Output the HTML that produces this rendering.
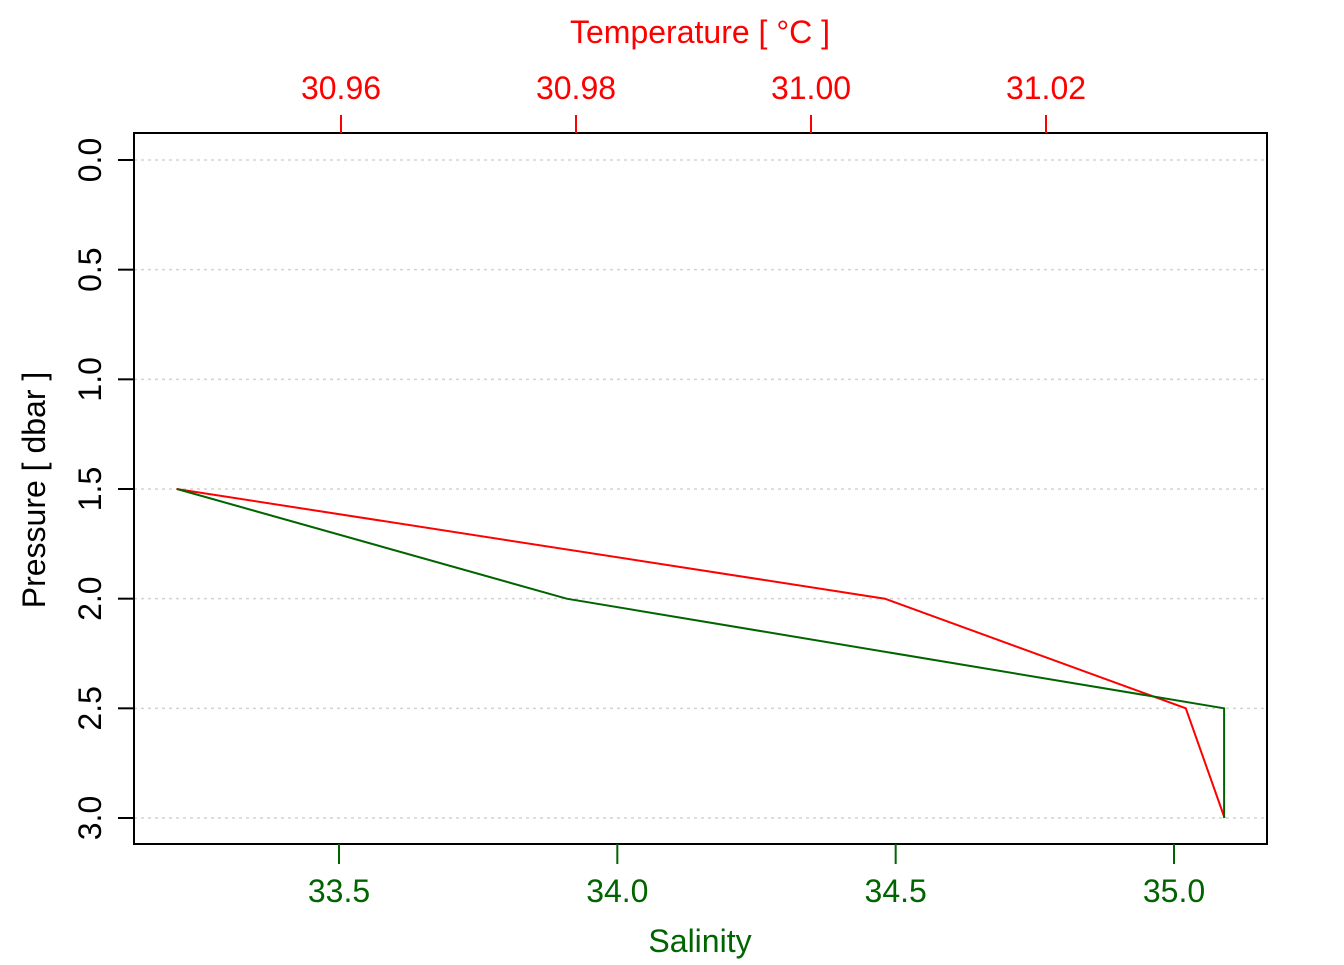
<!DOCTYPE html>
<html><head><meta charset="utf-8"><style>
html,body{margin:0;padding:0;background:#fff;}
svg text{font-family:"Liberation Sans",sans-serif;}
</style></head><body>
<svg id="chart" width="1344" height="960" viewBox="0 0 1344 960" xmlns="http://www.w3.org/2000/svg"></svg>
<script>
const pressure = [1.5, 2.0, 2.5, 3.0];
const salinity = [33.209, 33.909, 35.090, 35.090];
const temperature = [30.946, 31.0063, 31.0319, 31.0352];
const pTicks = [0.0, 0.5, 1.0, 1.5, 2.0, 2.5, 3.0];
const pTickLabels = ["0.0","0.5","1.0","1.5","2.0","2.5","3.0"];
const sTicks = [33.5, 34.0, 34.5, 35.0];
const sTickLabels = ["33.5","34.0","34.5","35.0"];
const tTicks = [30.96, 30.98, 31.00, 31.02];
const tTickLabels = ["30.96","30.98","31.00","31.02"];

const NS = "http://www.w3.org/2000/svg";
const svg = document.getElementById('chart');
const L=134, R=1267, T=133, B=844;
const yP = p => 160 + (p - 0) * (818 - 160) / 3;
const xS = s => 339 + (s - 33.5) * (1174 - 339) / 1.5;
const xT = t => 341 + (t - 30.96) * (1046 - 341) / 0.06;
const GREEN = "#006400", RED = "#ff0000";

function mk(tag, attrs, parent) {
  const e = document.createElementNS(NS, tag);
  for (const k in attrs) e.setAttribute(k, attrs[k]);
  (parent || svg).appendChild(e);
  return e;
}

pTicks.forEach((p, i) => {
  const g = mk('line', {x1:L, x2:R, y1:yP(p), y2:yP(p), stroke:'#d3d3d3', 'stroke-width':1.5, 'stroke-dasharray':'3,4'});
  
  
});

function series(xs, xf, color, name) {
  const pts = pressure.map((p, i) => xf(xs[i]).toFixed(1) + ',' + yP(p).toFixed(1)).join(' ');
  const l = mk('polyline', {points:pts, fill:'none', stroke:color, 'stroke-width':2});
  
  
}
series(temperature, xT, RED, 'temperature-line');
series(salinity, xS, GREEN, 'salinity-line');

const box = mk('rect', {x:L, y:T, width:R-L, height:B-T, fill:'none', stroke:'#000', 'stroke-width':2});



pTicks.forEach((p, i) => {
  mk('line', {x1:L, x2:L-16, y1:yP(p), y2:yP(p), stroke:'#000', 'stroke-width':2});
  const t = mk('text', {x:0, y:0, 'font-size':32, 'text-anchor':'middle', fill:'#000',
    transform:`translate(101,${yP(p)}) rotate(-90)`});
  t.textContent = pTickLabels[i];
  
  
});
sTicks.forEach((s, i) => {
  mk('line', {x1:xS(s), x2:xS(s), y1:B, y2:B+20, stroke:GREEN, 'stroke-width':2});
  const t = mk('text', {x:xS(s), y:902, 'font-size':32, 'text-anchor':'middle', fill:GREEN});
  t.textContent = sTickLabels[i];
  
  
});
tTicks.forEach((v, i) => {
  mk('line', {x1:xT(v), x2:xT(v), y1:T, y2:T-18, stroke:RED, 'stroke-width':2});
  const t = mk('text', {x:xT(v), y:99, 'font-size':32, 'text-anchor':'middle', fill:RED});
  t.textContent = tTickLabels[i];
  
  
});
</script>
<svg style="position:absolute;left:0;top:0" width="1344" height="960">
  <text x="700" y="952" font-size="32" text-anchor="middle" fill="#006400" font-family="Liberation Sans, sans-serif">Salinity</text>
  <text x="700" y="43" font-size="32" text-anchor="middle" fill="#ff0000" font-family="Liberation Sans, sans-serif">Temperature [ °C ]</text>
  <text transform="translate(45,490) rotate(-90)" font-size="32" text-anchor="middle" fill="#000" font-family="Liberation Sans, sans-serif">Pressure [ dbar ]</text>
</svg>
</body></html>
